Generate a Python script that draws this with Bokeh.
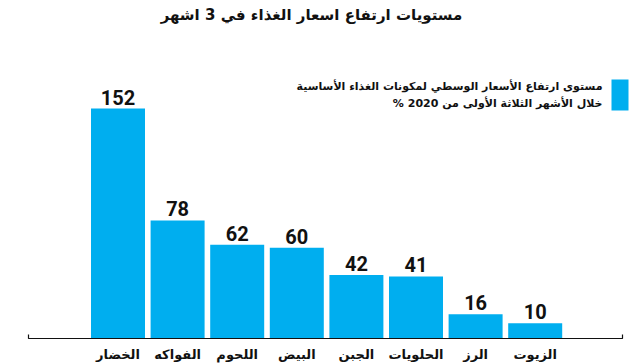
from bokeh.plotting import figure
from bokeh.models import Range1d, ColumnDataSource
from bokeh.core.properties import value
from bokeh.embed import file_html
from bokeh.resources import INLINE

# ---- data ----
categories = ["الخضار", "الفواكه", "اللحوم", "البيض", "الجبن", "الحلويات", "الرز", "الزيوت"]
values = [152, 78, 62, 60, 42, 41, 16, 10]
title_text = "مستويات ارتفاع اسعار الغذاء في 3 اشهر"
legend_lines = ["مستوى ارتفاع الأسعار الوسطي لمكونات الغذاء الأساسية",
                "خلال الأشهر الثلاثة الأولى من 2020 %\u200f"]

BLUE = "#00AEEF"
W, H = 639, 363
PITCH = 59.6      # px per category
X0 = 117.5        # canvas px of first bar centre
K = 1.513         # px per unit
YB = 338          # canvas px of baseline

def px2x(px):
    return (px - X0) / PITCH

def py2y(py):
    return (YB - py) / K

p = figure(width=W, height=H, output_backend="svg", toolbar_location=None,
           x_range=Range1d(px2x(0), px2x(W)), y_range=Range1d(py2y(H), py2y(0)),
           min_border=0, outline_line_color=None)
p.axis.visible = False
p.grid.visible = False
p.background_fill_color = "white"
p.border_fill_color = "white"

idx = list(range(len(categories)))
src = ColumnDataSource(dict(x=idx, top=values, cat=categories,
                            lab=[str(v) for v in values]))

p.vbar(x="x", top="top", bottom=0, width=54 / PITCH, source=src,
       fill_color=BLUE, line_color=None)

# value labels
p.text(x="x", y="top", text="lab", source=src, text_align="center",
       text_baseline="bottom", y_offset=-4,
       text_font=value("'Liberation Sans Narrow', Roboto, sans-serif"),
       text_font_style="bold", text_font_size="20px", text_color="#111111")

# category labels
p.text(x="x", y=0, text="cat", source=src, text_align="center",
       text_baseline="middle", y_offset=16,
       text_font=value("DejaVu Sans"), text_font_style="bold",
       text_font_size="13px", text_color="#111111")

# baseline with end ticks
p.line(x=[px2x(28), px2x(28), px2x(622), px2x(622)],
       y=[py2y(YB - 4), 0, 0, py2y(YB - 4)], line_color="#111111", line_width=1.2)

# title
p.text(x=[px2x(311)], y=[py2y(14)], text=[title_text], text_align="center",
       text_baseline="middle", text_font=value("DejaVu Sans"),
       text_font_style="bold", text_font_size="15px", text_color="#111111")

# legend
p.quad(left=[px2x(611)], right=[px2x(628)], top=[py2y(79)], bottom=[py2y(110)],
       fill_color=BLUE, line_color=None)
p.text(x=[px2x(602), px2x(602)], y=[py2y(86), py2y(103)], text=legend_lines,
       text_align="right", text_baseline="middle", text_font=value("DejaVu Sans"),
       text_font_style="bold", text_font_size="11px", text_color="#111111")

open("out.html", "w").write(file_html(p, INLINE))
